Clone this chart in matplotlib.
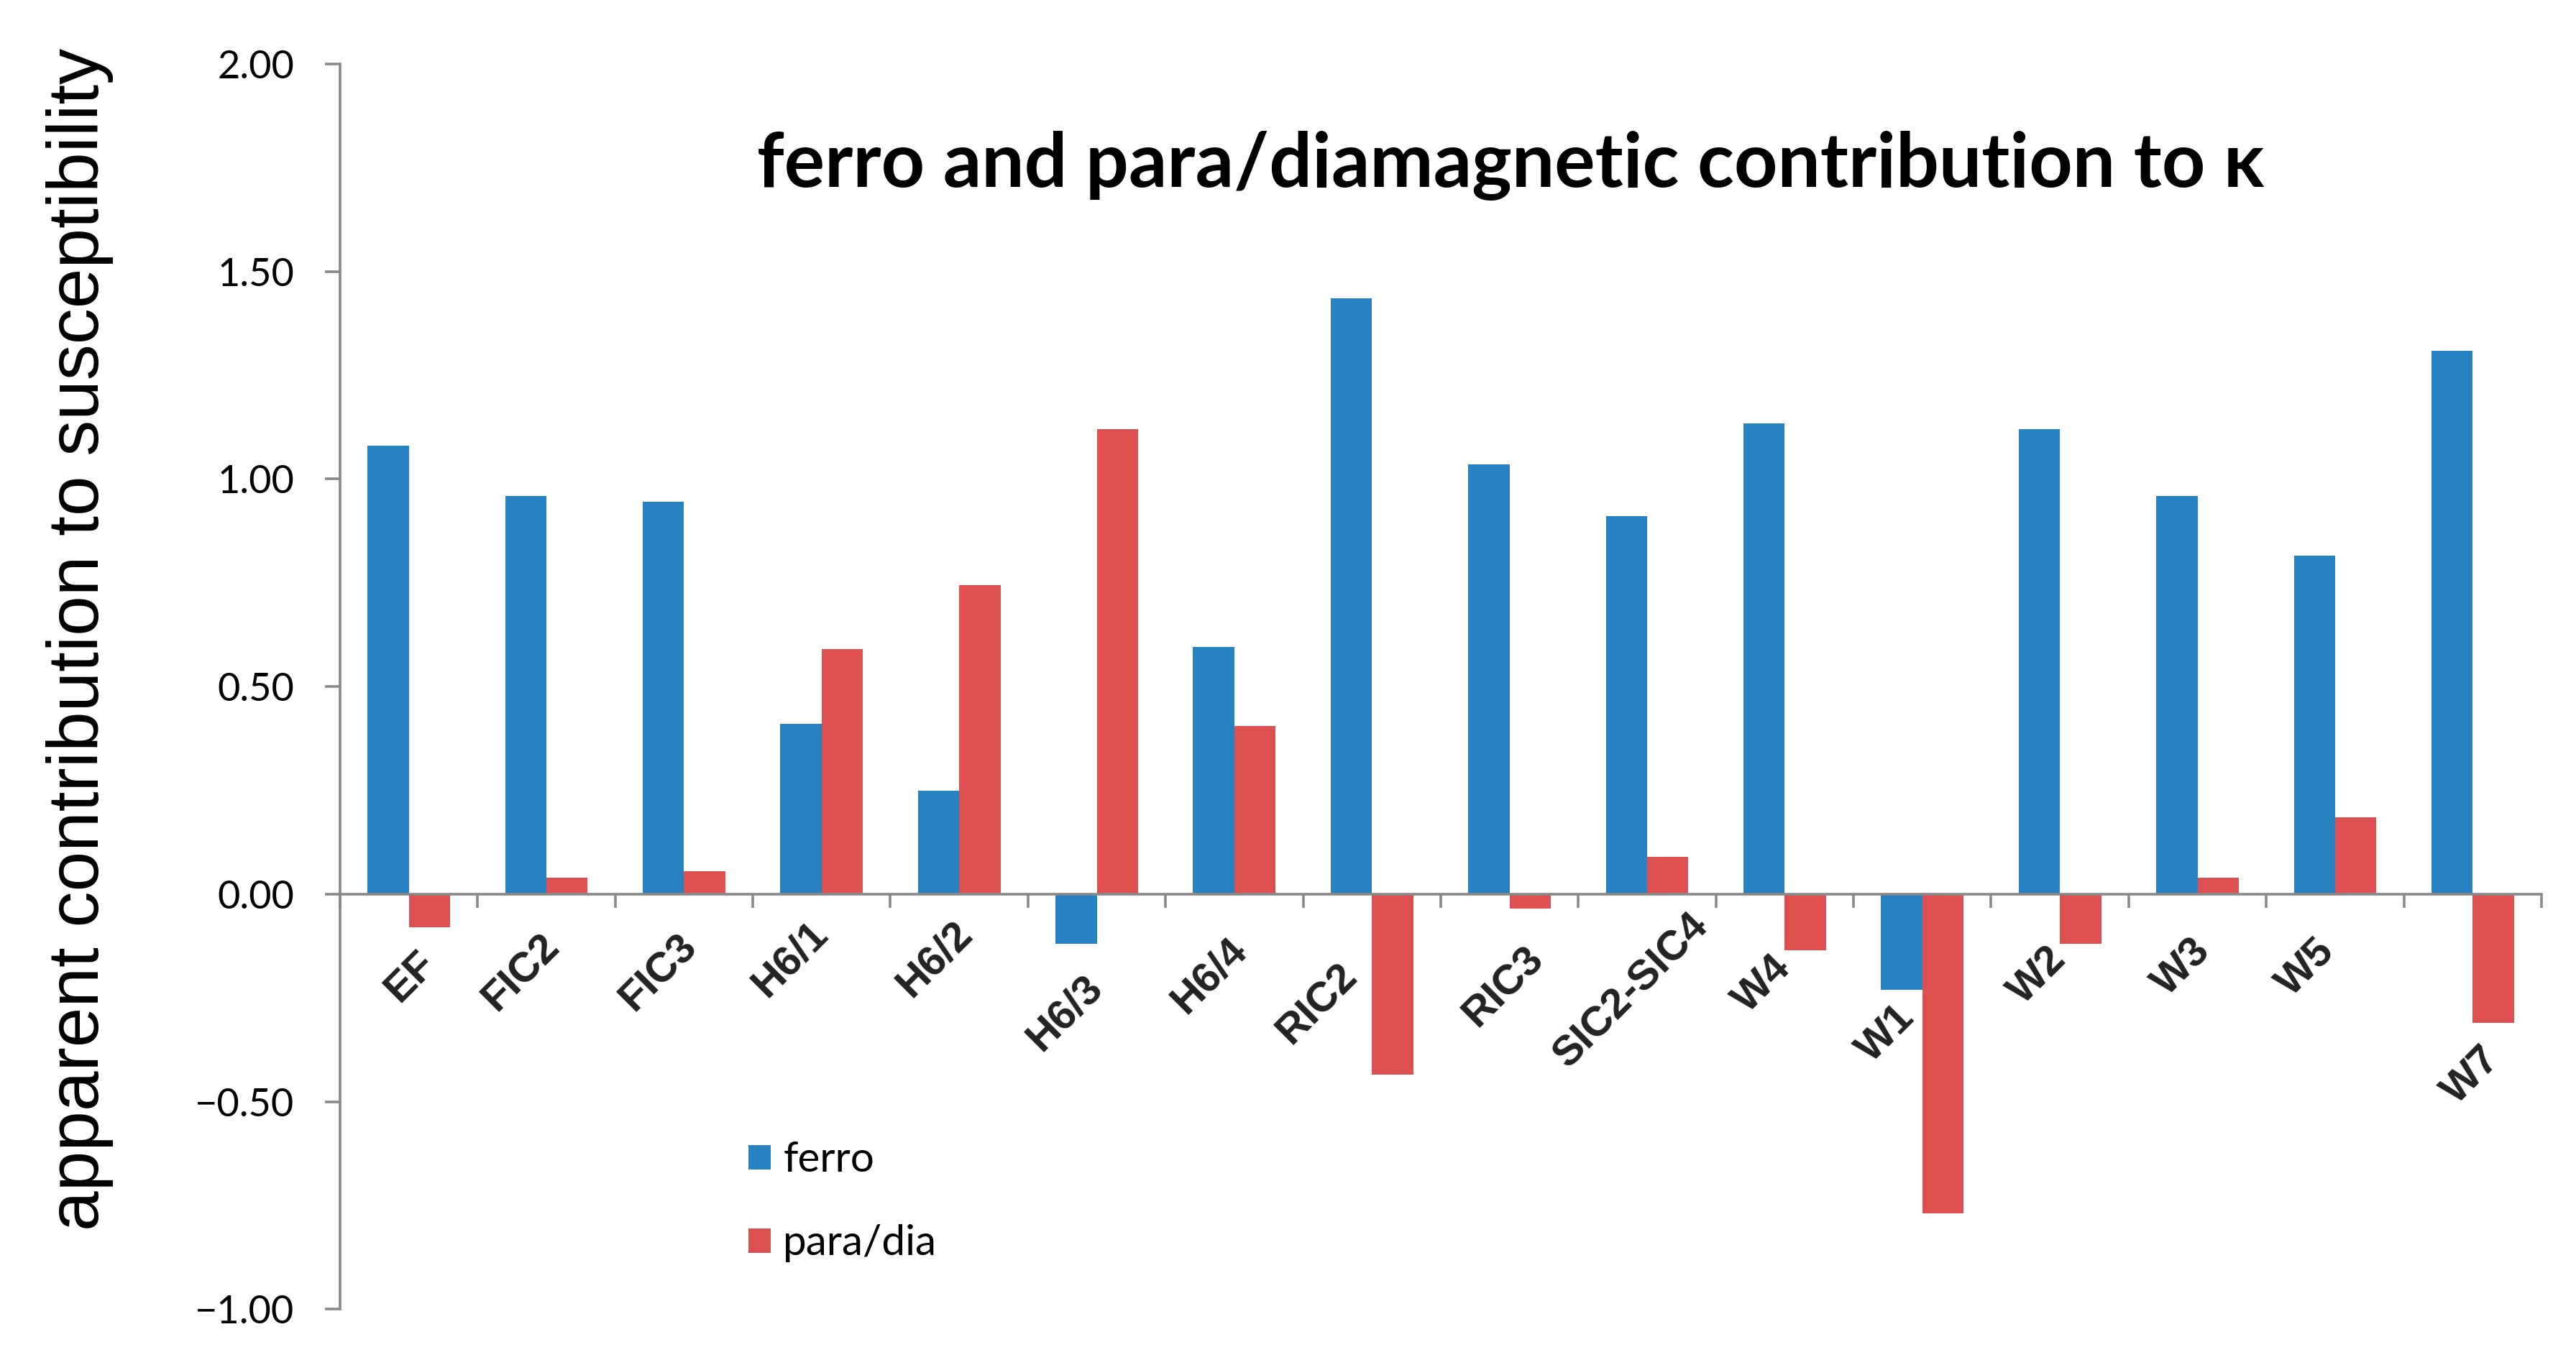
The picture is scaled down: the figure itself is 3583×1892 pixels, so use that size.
import matplotlib
matplotlib.use("Agg")
import matplotlib.pyplot as plt
import numpy as np

categories = ["EF", "FIC2", "FIC3", "H6/1", "H6/2", "H6/3", "H6/4", "RIC2",
              "RIC3", "SIC2-SIC4", "W4", "W1", "W2", "W3", "W5", "W7"]
ferro = [1.08, 0.96, 0.945, 0.41, 0.25, -0.12, 0.595, 1.435,
         1.035, 0.91, 1.135, -0.23, 1.12, 0.96, 0.815, 1.31]
para_dia = [-0.08, 0.04, 0.055, 0.59, 0.745, 1.12, 0.405, -0.435,
            -0.035, 0.09, -0.135, -0.77, -0.12, 0.04, 0.185, -0.31]
y_ticks = [-1.0, -0.5, 0.0, 0.5, 1.0, 1.5, 2.0]

# top-right end of each rotated category label (x shift in categories, y in data units)
label_dx = [0.05, -0.05, -0.05, -0.1, -0.05, -0.1, -0.05, -0.25,
            0.1, 0.3, -0.1, -0.2, -0.1, -0.05, -0.15, 0.05]
label_y = [-0.12, -0.08, -0.08, -0.05, -0.05, -0.18, -0.09, -0.15,
           -0.11, -0.03, -0.13, -0.25, -0.11, -0.09, -0.09, -0.35]

BLUE = "#2682C2"
RED = "#DE504F"
GREY = "#898989"

fig = plt.figure(figsize=(35.83, 18.92), dpi=100)
ax = fig.add_axes([0.132, 0.0374, 0.8546, 0.9155])

x = np.arange(len(categories)) + 0.5
width = 0.3
ax.bar(x - width / 2, ferro, width, color=BLUE, label="ferro")
ax.bar(x + width / 2, para_dia, width, color=RED, label="para/dia")

ax.set_xlim(0, len(categories))
ax.set_ylim(-1.0, 2.0)

for side in ["top", "right"]:
    ax.spines[side].set_visible(False)
ax.spines["left"].set_color(GREY)
ax.spines["left"].set_linewidth(2.6)
ax.spines["bottom"].set_color(GREY)
ax.spines["bottom"].set_linewidth(2.6)
ax.spines["bottom"].set_position(("data", 0))

ax.set_xticks(np.arange(len(categories) + 1))
ax.set_xticklabels([])
ax.tick_params(axis="x", direction="out", length=14, width=2.6, color=GREY)

ax.set_yticks(y_ticks)
ax.set_yticklabels([f"{v:.2f}".replace("-", "\u2212") for v in y_ticks],
                   fontfamily="Lato", fontsize=39)
ax.tick_params(axis="y", direction="out", length=15, width=2.6, color=GREY, pad=31)

for xi, name, dx, ly in zip(x, categories, label_dx, label_y):
    ax.text(xi + dx, ly, name, rotation=45, rotation_mode="anchor", ha="right", va="top",
            color="#222222", fontfamily="Liberation Sans", fontweight="bold", fontsize=42)

fig.text(0.031, 0.530, "apparent contribution to susceptibility", rotation=90,
         ha="center", va="center", fontfamily="Liberation Sans", fontsize=72)

fig.text(0.5865, 0.878, "ferro and para/diamagnetic contribution to \u03ba",
         ha="center", va="center", fontfamily="Lato", fontweight="bold", fontsize=76)

ax.legend(loc="upper left", bbox_to_anchor=(0.2825, 0.1765), bbox_transform=fig.transFigure,
          frameon=False, prop={"family": "Lato", "size": 42}, handlelength=0.52,
          handleheight=0.52, handletextpad=0.3, labelspacing=1.08, borderpad=0)

fig.savefig("out.png", dpi=100)
